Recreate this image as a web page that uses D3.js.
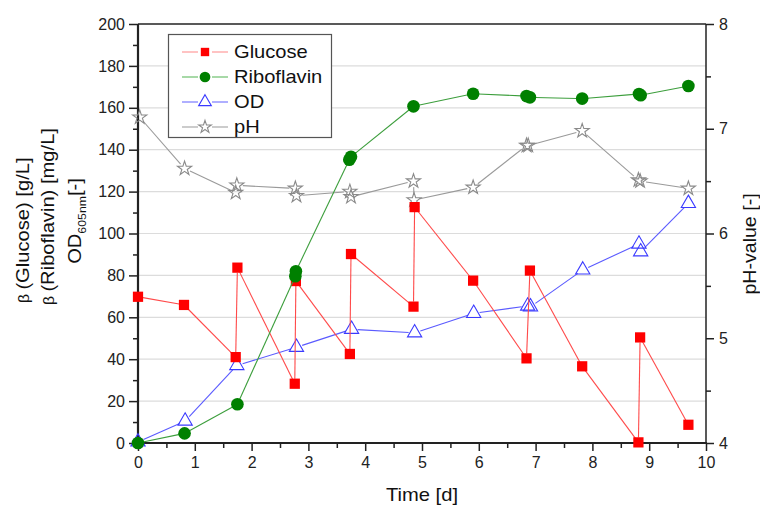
<!DOCTYPE html>
<html><head><meta charset="utf-8">
<script src="https://cdn.jsdelivr.net/npm/d3@7"></script>
<style>body{margin:0;background:#fff}svg{display:block;font-family:Arial,"Liberation Sans",sans-serif}</style>
</head><body><svg id="c" width="760" height="506"></svg>
<script>
// ---- data ----
const glucoseT = [0,0.81,1.72,1.75,2.76,2.78,3.73,3.75,4.85,4.87,5.90,6.84,6.90,7.82,8.81,8.84,9.69];
const glucoseV = [69.8,65.9,41.0,83.7,28.3,77.3,42.5,90.2,65.1,112.6,77.5,40.4,82.3,36.6,0.3,50.4,8.7];
const riboT = [0,0.82,1.75,2.77,2.78,3.72,3.75,4.85,5.90,6.84,6.90,7.82,8.82,8.85,9.69];
const riboV = [0,4.6,18.5,79.6,82.0,135.2,136.6,160.7,166.7,165.6,165.0,164.4,166.6,166.0,170.4];
const odT = [0,0.83,1.74,2.79,3.76,4.87,5.91,6.86,6.91,7.83,8.82,8.85,9.69];
const odV = [0.5,10.5,37.0,45.7,54.3,52.6,61.9,65.4,65.0,82.6,95.0,91.3,114.4];
const phT = [0.03,0.82,1.72,1.74,2.77,2.79,3.73,3.75,4.85,4.86,5.90,6.84,6.87,7.82,8.81,8.84,9.69];
const phV = [7.11,6.62,6.39,6.46,6.43,6.36,6.40,6.35,6.50,6.32,6.44,6.84,6.84,6.98,6.51,6.50,6.43];
const xTicks = [0,1,2,3,4,5,6,7,8,9,10];
const yLeftTicks = [0,20,40,60,80,100,120,140,160,180,200];
const yRightTicks = [4,5,6,7,8];
const legendNames = ["Glucose","Riboflavin","OD","pH"];

const svg = d3.select("#c");
const L = 138, R = 706, T = 24, B = 443;
const x = d3.scaleLinear().domain([0,10]).range([L,R]);
const yL = d3.scaleLinear().domain([0,200]).range([B,T]);
const yR = d3.scaleLinear().domain([4,8]).range([B,T]);

// grid
svg.append("g").selectAll("line").data(yLeftTicks.filter(d=>d>0&&d<200)).join("line")
  .attr("x1",L).attr("x2",R).attr("y1",d=>yL(d)).attr("y2",d=>yL(d))
  .attr("stroke","#dcdcdc").attr("stroke-width",1.2);

// axes
const fs = "16px";
const gx = svg.append("g").attr("transform",`translate(0,${B})`)
  .call(d3.axisBottom(x).tickValues(xTicks).tickSize(8).tickPadding(6).tickFormat(d3.format("d")));
const gxm = svg.append("g").attr("transform",`translate(0,${B})`)
  .call(d3.axisBottom(x).tickValues(d3.range(0.5,10,1)).tickSize(5).tickFormat(""));
const gl = svg.append("g").attr("transform",`translate(${L},0)`)
  .call(d3.axisLeft(yL).tickValues(yLeftTicks).tickSize(9).tickPadding(4));
const glm = svg.append("g").attr("transform",`translate(${L},0)`)
  .call(d3.axisLeft(yL).tickValues(d3.range(10,200,20)).tickSize(5).tickFormat(""));
const gr = svg.append("g").attr("transform",`translate(${R},0)`)
  .call(d3.axisRight(yR).tickValues(yRightTicks).tickSize(8).tickPadding(5).tickFormat(d3.format("d")));
const grm = svg.append("g").attr("transform",`translate(${R},0)`)
  .call(d3.axisRight(yR).tickValues([4.5,5.5,6.5,7.5]).tickSize(5).tickFormat(""));
[gx,gxm,gl,glm,gr,grm].forEach(g=>{
  g.select(".domain").remove();
  g.selectAll(".tick line").attr("stroke","#222").attr("stroke-width",1.5);
  g.selectAll("text").attr("font-size",fs).attr("fill","#222").attr("font-family","Arial, 'Liberation Sans', sans-serif");
});
// frame
svg.append("line").attr("x1",L).attr("x2",R).attr("y1",T).attr("y2",T).attr("stroke","#222").attr("stroke-width",1.5);
svg.append("line").attr("x1",R).attr("x2",R).attr("y1",T).attr("y2",B).attr("stroke","#222").attr("stroke-width",1.5);
svg.append("line").attr("x1",L).attr("x2",L).attr("y1",T).attr("y2",B+1).attr("stroke","#222").attr("stroke-width",2.2);
svg.append("line").attr("x1",L-1).attr("x2",R+1).attr("y1",B).attr("y2",B).attr("stroke","#222").attr("stroke-width",2.2);

// series
function gapLines(g, pts, color, gap){
  for(let i=0;i<pts.length-1;i++){
    const [x1,y1]=pts[i],[x2,y2]=pts[i+1];
    const dx=x2-x1, dy=y2-y1, len=Math.hypot(dx,dy);
    if(len<=2*gap) continue;
    const ux=dx/len, uy=dy/len;
    g.append("line").attr("x1",x1+ux*gap).attr("y1",y1+uy*gap)
      .attr("x2",x2-ux*gap).attr("y2",y2-uy*gap)
      .attr("stroke",color).attr("stroke-width",1.1);
  }
}
const series = [
  {t:glucoseT,v:glucoseV,y:yL,line:"#ff4a4a",sym:d3.symbolSquare,size:105,fill:"#ff0000",stroke:"none",gap:5},
  {t:riboT,v:riboV,y:yL,line:"#3c9e3c",sym:d3.symbolCircle,size:125,fill:"#008000",stroke:"none",gap:5},
  {t:odT,v:odV,y:yL,line:"#5a5aff",sym:d3.symbolTriangle,size:88,fill:"none",stroke:"#3a3aff",gap:6},
  {t:phT,v:phV,y:yR,line:"#9a9a9a",sym:d3.symbolStar,size:62,fill:"none",stroke:"#8a8a8a",gap:6}
];
const order=[3,2,0,1];
order.forEach(i=>{
  const s=series[i];
  const pts=s.t.map((t,k)=>[x(s.t[k]),s.y(s.v[k])]);
  const g=svg.append("g");
  gapLines(g,pts,s.line,s.gap);
  g.selectAll("path").data(pts).join("path")
    .attr("transform",d=>`translate(${d[0]},${d[1]})`)
    .attr("d",d3.symbol().type(s.sym).size(s.size))
    .attr("fill",s.fill).attr("stroke",s.stroke).attr("stroke-width",1.1);
});

// legend
const lg=svg.append("g");
lg.append("rect").attr("x",168.5).attr("y",34.5).attr("width",163).attr("height",103)
  .attr("fill","#fff").attr("stroke","#555").attr("stroke-width",1.2);
const legLine=["#ff9a9a","#6cbf6c","#7a7aff","#aaaaaa"];
const legSize=[70,90,70,50];
legendNames.forEach((n,i)=>{
  const s=series[i], cy=52+i*25;
  lg.append("line").attr("x1",182).attr("x2",198).attr("y1",cy).attr("y2",cy).attr("stroke",legLine[i]).attr("stroke-width",1.2);
  lg.append("line").attr("x1",212).attr("x2",228).attr("y1",cy).attr("y2",cy).attr("stroke",legLine[i]).attr("stroke-width",1.2);
  lg.append("path").attr("transform",`translate(205,${cy})`)
    .attr("d",d3.symbol().type(s.sym).size(legSize[i]))
    .attr("fill",s.fill).attr("stroke",s.stroke).attr("stroke-width",1.1);
  lg.append("text").attr("transform",`translate(234,${cy+6.3}) scale(1.15,1)`).attr("font-size","17.5px").attr("fill","#111").text(n);
});

// axis titles
svg.append("text").attr("transform","translate(422,501) scale(1.12,1)").attr("text-anchor","middle").attr("font-size","18px").attr("fill","#111").text("Time [d]");
svg.append("text").attr("transform","translate(756,244) rotate(-90) scale(1.12,1)").attr("text-anchor","middle").attr("font-size","17.5px").attr("fill","#111").text("pH-value [-]");
const t1=svg.append("text").attr("transform","translate(29,303) rotate(-90) scale(1.12,1)").attr("font-size","18px").attr("fill","#111");
t1.append("tspan").attr("font-size","14px").text("β ");
t1.append("tspan").text("(Glucose) [g/L]");
const t2=svg.append("text").attr("transform","translate(54,305) rotate(-90) scale(1.12,1)").attr("font-size","18px").attr("fill","#111");
t2.append("tspan").attr("font-size","14px").text("β ");
t2.append("tspan").text("(Riboflavin) [mg/L]");
const t3=svg.append("text").attr("transform","translate(81,221) rotate(-90) scale(1.12,1)").attr("text-anchor","middle").attr("font-size","18px").attr("fill","#111");
t3.append("tspan").text("OD");
t3.append("tspan").attr("font-size","11px").attr("dy","5").text("605nm");
t3.append("tspan").attr("dy","-5").text("[-]");
</script></body></html>
